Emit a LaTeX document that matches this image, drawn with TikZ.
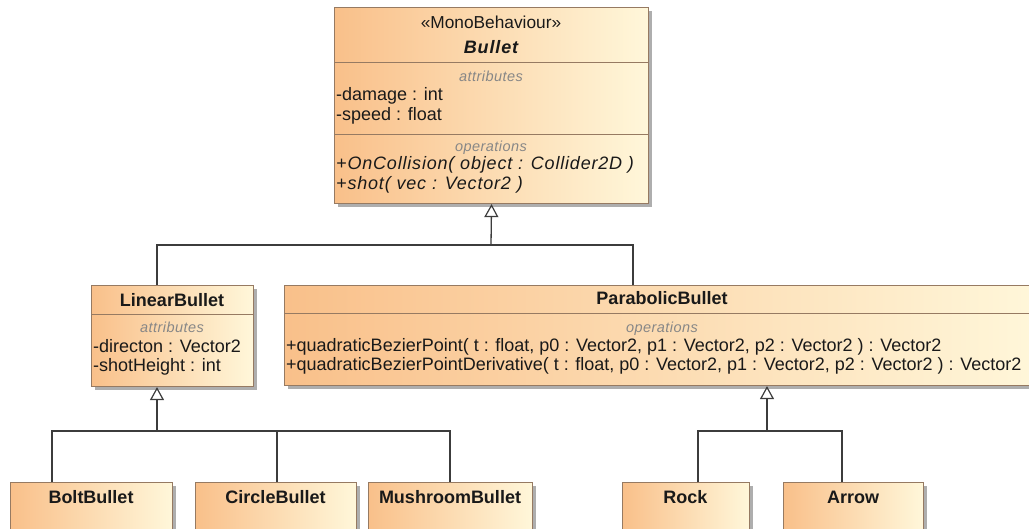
\documentclass[tikz,border=0pt]{standalone}
\usepackage{fontspec}
\setmainfont{Liberation Sans}
\usetikzlibrary{arrows.meta,shadows}

\definecolor{boxorange}{RGB}{249,192,138}
\definecolor{boxcream}{RGB}{255,247,218}
\definecolor{boxline}{RGB}{150,122,98}
\definecolor{shadowgray}{RGB}{160,160,160}
\definecolor{linkgray}{RGB}{60,60,60}
\definecolor{compgray}{RGB}{135,135,135}
\definecolor{txt}{RGB}{25,25,25}

\tikzset{
  classbox/.style={draw=boxline, line width=1.1pt, left color=boxorange, right color=boxcream,
    anchor=north west, inner sep=0pt,
    drop shadow={shadow xshift=3.5pt, shadow yshift=-3.5pt, fill=shadowgray, opacity=0.85}},
  compline/.style={draw=boxline, line width=1pt},
  member/.style={anchor=base west, inner sep=0pt, text=txt, font=\fontsize{18}{20}\selectfont},
  opmember/.style={member, font=\fontsize{18}{20}\selectfont\itshape\addfontfeature{LetterSpace=4.5}},
  classname/.style={anchor=base, inner sep=0pt, text=txt, font=\fontsize{18}{20}\selectfont\bfseries},
  stereo/.style={anchor=base, inner sep=0pt, text=txt, font=\fontsize{17.3}{20}\selectfont},
  comptitle/.style={anchor=base, inner sep=0pt, text=compgray, font=\fontsize{14.5}{17}\selectfont\itshape\addfontfeature{LetterSpace=3}},
  link/.style={draw=linkgray, line width=1.3pt},
  gen/.style={link, -{Triangle[length=13pt, width=14pt, fill=white, line width=1.2pt]}}
}

\begin{document}
\begin{tikzpicture}[x=1pt, y=-1pt]
\useasboundingbox (0,0) rectangle (1029,529);
\clip (0,0) rectangle (1029,529);

% ---- Bullet ----
\node[classbox, minimum width=314pt, minimum height=196pt] (bul) at (334,7) {};
\draw[compline] (334,63) -- (648,63);
\draw[compline] (334,135) -- (648,135);
\node[stereo] (bul-st) at (491,29) {«MonoBehaviour»};
\node[classname, font=\fontsize{18}{20}\selectfont\bfseries\itshape\addfontfeature{LetterSpace=5}] (bul-nm) at (491,54) {Bullet};
\node[comptitle] (bul-at) at (491,82) {attributes};
\node[member] (bul-a1) at (336,101) {-damage : int};
\node[member] (bul-a2) at (336,121) {-speed : float};
\node[comptitle] (bul-op) at (491,152) {operations};
\node[opmember] (bul-o1) at (336,170) {+OnCollision( object : Collider2D )};
\node[opmember] (bul-o2) at (336,190) {+shot( vec : Vector2 )};

% ---- LinearBullet ----
\node[classbox, minimum width=162pt, minimum height=101pt] (lin) at (91,285) {};
\draw[compline] (91,315) -- (253,315);
\node[classname] (lin-nm) at (172,307) {LinearBullet};
\node[comptitle] (lin-at) at (172,333) {attributes};
\node[member] (lin-a1) at (93,353) {-directon : Vector2};
\node[member] (lin-a2) at (93,372) {-shotHeight : int};

% ---- ParabolicBullet ----
\node[classbox, minimum width=756pt, minimum height=100pt] (par) at (284,285) {};
\draw[compline] (284,314) -- (1040,314);
\node[classname] (par-nm) at (662,305) {ParabolicBullet};
\node[comptitle] (par-op) at (662,333) {operations};
\node[member] (par-o1) at (286,352) {+quadraticBezierPoint( t : float, p0 : Vector2, p1 : Vector2, p2 : Vector2 ) : Vector2};
\node[member] (par-o2) at (286,371) {+quadraticBezierPointDerivative( t : float, p0 : Vector2, p1 : Vector2, p2 : Vector2 ) : Vector2};

% ---- leaf classes ----
\node[classbox, minimum width=162pt, minimum height=52pt] (bolt) at (10,482) {};
\node[classname] (bolt-nm) at (91,503) {BoltBullet};
\node[classbox, minimum width=161pt, minimum height=52pt] (circ) at (195,482) {};
\node[classname] (circ-nm) at (275.5,503) {CircleBullet};
\node[classbox, minimum width=164pt, minimum height=52pt] (mush) at (368,482) {};
\node[classname] (mush-nm) at (450,503) {MushroomBullet};
\node[classbox, minimum width=127pt, minimum height=52pt] (rock) at (622,482) {};
\node[classname] (rock-nm) at (685.5,503) {Rock};
\node[classbox, minimum width=140pt, minimum height=52pt] (arrw) at (783,482) {};
\node[classname] (arrw-nm) at (853,503) {Arrow};

% ---- generalizations ----
\coordinate (j0) at (491,245);
\coordinate (j1) at (157,431);
\coordinate (j2) at (767,431);

\draw[link] ([xshift=66pt]lin.north west) |- (j0);
\draw[link] ([xshift=349pt]par.north west) |- (j0);
\draw[gen] (j0) -- (bul.south);

\draw[link] ([xshift=42pt]bolt.north west) |- (j1);
\draw[link] ([xshift=82pt]circ.north west) |- (j1);
\draw[link] ([xshift=82pt]mush.north west) |- (j1);
\draw[gen] (j1) -- ([xshift=66pt]lin.south west);

\draw[link] ([xshift=76pt]rock.north west) |- (j2);
\draw[link] ([xshift=59pt]arrw.north west) |- (j2);
\draw[gen] (j2) -- ([xshift=483pt]par.south west);
\end{tikzpicture}
\end{document}
